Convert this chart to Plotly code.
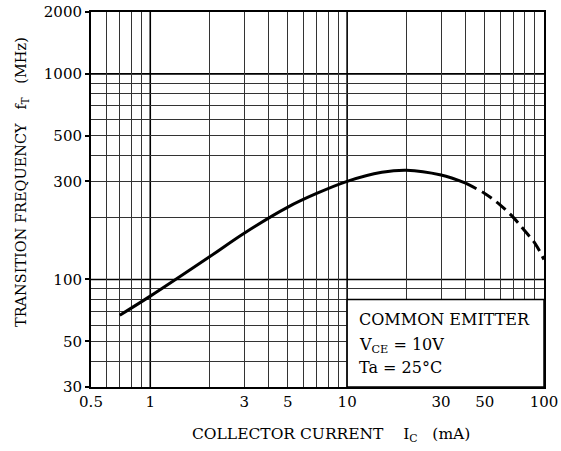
import plotly.graph_objects as go
import math

# Data
ic_solid = [0.7, 1, 2, 3, 5, 7, 10, 15, 20, 30, 40]
ft_solid = [67, 83, 129, 168, 225, 262, 300, 332, 340, 322, 294]
ic_dash = [40, 50, 60, 70, 80, 90, 100]
ft_dash = [294, 262, 230, 200, 172, 150, 125]

x_ticks = [0.5, 1, 3, 5, 10, 30, 50, 100]
x_ticklabels = ["0.5", "1", "3", "5", "10", "30", "50", "100"]
y_ticks = [30, 50, 100, 300, 500, 1000, 2000]
y_ticklabels = ["30", "50", "100", "300", "500", "1000", "2000"]

x_grid = [0.6, 0.7, 0.8, 0.9, 2, 3, 4, 5, 6, 7, 8, 9, 20, 30, 40, 50, 60, 70, 80, 90]
y_grid = [40, 50, 60, 70, 80, 90, 200, 300, 400, 500, 600, 700, 800, 900]
x_major_grid = [1, 10]
y_major_grid = [100, 1000]

FONT = "DejaVu Serif"

fig = go.Figure()
fig.add_trace(go.Scatter(x=ic_solid, y=ft_solid, mode="lines",
                         line=dict(color="black", width=3, shape="spline", smoothing=1.0),
                         showlegend=False, hoverinfo="skip"))
fig.add_trace(go.Scatter(x=ic_dash, y=ft_dash, mode="lines",
                         line=dict(color="black", width=3, shape="spline", dash="12px,6px"),
                         showlegend=False, hoverinfo="skip"))

shapes = []
for xv in x_major_grid:
    shapes.append(dict(type="line", xref="x", yref="paper", x0=xv, x1=xv, y0=0, y1=1,
                       line=dict(color="black", width=1.6), layer="below"))
for yv in y_major_grid:
    shapes.append(dict(type="line", xref="paper", yref="y", x0=0, x1=1, y0=yv, y1=yv,
                       line=dict(color="black", width=1.6), layer="below"))
# conditions box
shapes.append(dict(type="rect", xref="x", yref="y", x0=10, x1=100, y0=30, y1=80,
                   fillcolor="white", line=dict(color="black", width=1.5), layer="above"))

annotations = [
    dict(text="COMMON EMITTER", xref="paper", yref="paper", x=0.587, y=0.180,
         xanchor="left", yanchor="middle", showarrow=False,
         font=dict(family=FONT, size=16, color="black")),
    dict(text="V<sub>CE</sub> = 10V", xref="paper", yref="paper", x=0.587, y=0.112,
         xanchor="left", yanchor="middle", showarrow=False,
         font=dict(family=FONT, size=16, color="black")),
    dict(text="Ta = 25°C", xref="paper", yref="paper", x=0.587, y=0.053,
         xanchor="left", yanchor="middle", showarrow=False,
         font=dict(family=FONT, size=16, color="black")),
    dict(text="COLLECTOR CURRENT    I<sub>C</sub>   (mA)", xref="paper", yref="paper",
         x=0.529, y=-0.128, xanchor="center", yanchor="middle", showarrow=False,
         font=dict(family=FONT, size=15.5, color="black")),
    dict(text="TRANSITION FREQUENCY   f<sub>T</sub>   (MHz)", xref="paper", yref="paper",
         x=-0.152, y=0.547, xanchor="center", yanchor="middle", showarrow=False,
         textangle=-90, font=dict(family=FONT, size=14.5, color="black")),
]

fig.update_layout(
    width=561, height=451,
    margin=dict(l=91, r=17, t=12, b=64, autoexpand=False),
    paper_bgcolor="white", plot_bgcolor="white",
    shapes=shapes, annotations=annotations,
    font=dict(family=FONT, color="black"),
)
fig.update_xaxes(type="log", range=[math.log10(0.5), 2], automargin=False,
                 tickvals=x_ticks, ticktext=x_ticklabels, ticks="",
                 tickfont=dict(family=FONT, size=15, color="black"),
                 showgrid=False, zeroline=False,
                 showline=True, mirror=True, linecolor="black", linewidth=2,
                 minor=dict(tickvals=x_grid, showgrid=True, gridcolor="#333333",
                            gridwidth=1, ticks=""))
fig.update_yaxes(type="log", range=[math.log10(30), math.log10(2000)], automargin=False,
                 tickvals=y_ticks, ticktext=y_ticklabels, ticks="outside",
                 ticklen=4, tickcolor="black", tickwidth=1.5,
                 tickfont=dict(family=FONT, size=15, color="black"),
                 showgrid=False, zeroline=False,
                 showline=True, mirror=True, linecolor="black", linewidth=2,
                 minor=dict(tickvals=y_grid, showgrid=True, gridcolor="#333333",
                            gridwidth=1, ticks=""))

fig.write_html("out.html")
